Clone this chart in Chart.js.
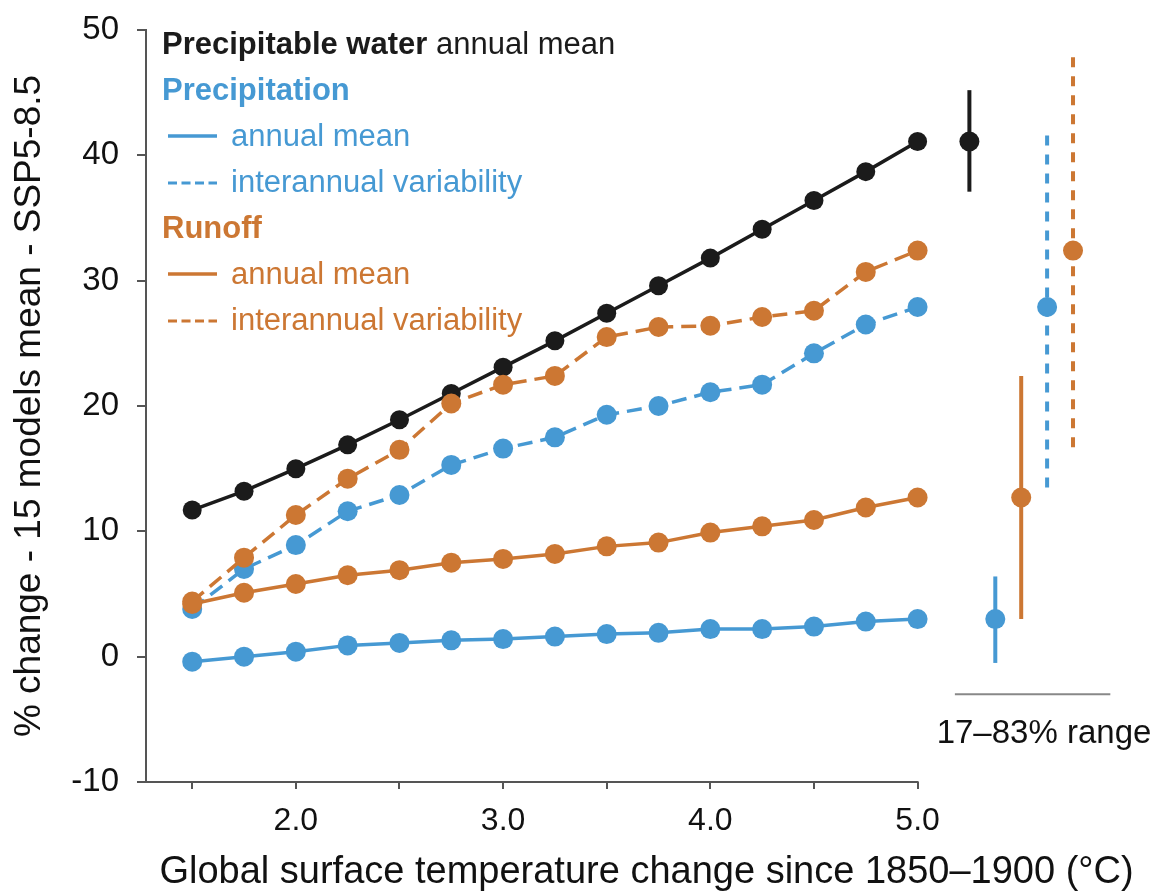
<!DOCTYPE html>
<html>
<head>
<meta charset="utf-8">
<script src="https://cdn.jsdelivr.net/npm/chart.js@4.4.1/dist/chart.umd.min.js"></script>
<style>
  html, body { margin: 0; padding: 0; background: #fff; }
  canvas { display: block; }
</style>
</head>
<body>
<canvas id="chart" width="1157" height="895"></canvas>
<script>
// Warming levels (°C above 1850-1900)
const temps = [1.5, 1.75, 2.0, 2.25, 2.5, 2.75, 3.0, 3.25, 3.5, 3.75, 4.0, 4.25, 4.5, 4.75, 5.0];

// % change, 15 models mean, SSP5-8.5
const pwMean     = [11.7, 13.2, 15.0, 16.9, 18.9, 21.0, 23.1, 25.2, 27.4, 29.6, 31.8, 34.1, 36.4, 38.7, 41.1];
const precipMean = [-0.4, 0.0, 0.4, 0.9, 1.1, 1.3, 1.4, 1.6, 1.8, 1.9, 2.2, 2.2, 2.4, 2.8, 3.0];
const precipVar  = [3.8, 7.0, 8.9, 11.6, 12.9, 15.3, 16.6, 17.5, 19.3, 20.0, 21.1, 21.7, 24.2, 26.5, 27.9];
const runoffMean = [4.2, 5.1, 5.8, 6.5, 6.9, 7.5, 7.8, 8.2, 8.8, 9.1, 9.9, 10.4, 10.9, 11.9, 12.7];
const runoffVar  = [4.4, 7.9, 11.3, 14.2, 16.5, 20.2, 21.7, 22.4, 25.5, 26.3, 26.4, 27.1, 27.6, 30.7, 32.4];

// 17-83% model range at 5.0 °C, drawn to the right of the curves
// order: precipitable water, precip mean, runoff mean, precip variability, runoff variability
const rangeX    = [5.25, 5.375, 5.5, 5.625, 5.75];
const rangeMid  = [41.1, 3.0, 12.7, 27.9, 32.4];
const rangeLow  = [37.1, -0.5, 3.0, 13.5, 16.7];
const rangeHigh = [45.2, 6.4, 22.4, 42.2, 48.2];

const xTicks = [1.5, 2.0, 2.5, 3.0, 3.5, 4.0, 4.5, 5.0];
const yTicks = [-10, 0, 10, 20, 30, 40, 50];

const BLACK = '#1b1b1b';
const BLUE = '#4699d3';
const ORANGE = '#cc7733';
const AXIS = '#555555';
const TEXT = '#111111';
const FONT = '"Liberation Sans", Arial, Helvetica, sans-serif';

Chart.defaults.font.family = FONT;

function points(values) {
  return temps.map((t, i) => ({ x: t, y: values[i] }));
}

function curve(values, color, dash, radius) {
  return {
    data: points(values),
    showLine: true,
    borderColor: color,
    backgroundColor: color,
    borderWidth: 3.5,
    borderDash: dash,
    pointRadius: radius,
    pointBackgroundColor: color,
    pointBorderWidth: 0,
    clip: false,
    order: 0
  };
}

const rangeColors = [BLACK, BLUE, ORANGE, BLUE, ORANGE];
const rangeDashes = [[], [], [], [10, 9], [10, 9]];

const rangeBars = rangeX.map((x, i) => ({
  data: [{ x: x, y: rangeLow[i] }, { x: x, y: rangeHigh[i] }],
  showLine: true,
  borderColor: rangeColors[i],
  borderWidth: 4,
  borderDash: rangeDashes[i],
  borderCapStyle: 'butt',
  pointRadius: 0,
  clip: false,
  order: 2
}));

const rangeDots = {
  data: rangeX.map((x, i) => ({ x: x, y: rangeMid[i] })),
  showLine: false,
  pointRadius: 10,
  pointBackgroundColor: rangeColors,
  pointBorderWidth: 0,
  clip: false,
  order: 1
};

// keep the plot area where the layout padding puts it
function noScalePadding(s) {
  s.paddingTop = 0;
  s.paddingBottom = 0;
  s.paddingLeft = 0;
  s.paddingRight = 0;
}

// axis line that stops at 5.0, the text legend and the range note
const extras = {
  id: 'extras',
  beforeDatasetsDraw(chart) {
    const { ctx, chartArea, scales: { x, y } } = chart;
    ctx.save();
    ctx.strokeStyle = AXIS;
    ctx.lineWidth = 2;
    ctx.beginPath();
    ctx.moveTo(chartArea.left - 1, chartArea.bottom);
    ctx.lineTo(x.getPixelForValue(5.0) + 1, chartArea.bottom);
    ctx.stroke();

    // range underline + label
    const ly = y.getPixelForValue(-3.0);
    ctx.strokeStyle = '#888888';
    ctx.beginPath();
    ctx.moveTo(x.getPixelForValue(5.18), ly);
    ctx.lineTo(x.getPixelForValue(5.93), ly);
    ctx.stroke();
    ctx.fillStyle = TEXT;
    ctx.font = '33px ' + FONT;
    ctx.textAlign = 'center';
    ctx.textBaseline = 'alphabetic';
    ctx.fillText('17–83% range', x.getPixelForValue(5.61), ly + 49);
    ctx.restore();
  },
  afterDraw(chart) {
    const { ctx, chartArea } = chart;
    const left = chartArea.left + 16;
    const lineX0 = chartArea.left + 22;
    const lineX1 = chartArea.left + 71;
    const textX = chartArea.left + 85;
    const step = 46;
    const base = chartArea.top + 24;

    ctx.save();
    ctx.textAlign = 'left';
    ctx.textBaseline = 'alphabetic';

    ctx.fillStyle = BLACK;
    ctx.font = 'bold 31px ' + FONT;
    ctx.fillText('Precipitable water', left, base);
    const w = ctx.measureText('Precipitable water ').width;
    ctx.font = '31px ' + FONT;
    ctx.fillText('annual mean', left + w, base);

    const groups = [
      { name: 'Precipitation', color: BLUE },
      { name: 'Runoff', color: ORANGE }
    ];
    groups.forEach((g, gi) => {
      const b = base + step * (1 + gi * 3);
      ctx.fillStyle = g.color;
      ctx.strokeStyle = g.color;
      ctx.font = 'bold 31px ' + FONT;
      ctx.fillText(g.name, left, b);

      ctx.font = '31px ' + FONT;
      ctx.fillText('annual mean', textX, b + step);
      ctx.fillText('interannual variability', textX, b + step * 2);

      ctx.lineWidth = 3.5;
      ctx.setLineDash([]);
      ctx.beginPath();
      ctx.moveTo(lineX0, b + step - 10);
      ctx.lineTo(lineX1, b + step - 10);
      ctx.stroke();

      ctx.lineWidth = 3;
      ctx.setLineDash([9, 4.5]);
      ctx.beginPath();
      ctx.moveTo(lineX0, b + step * 2 - 9);
      ctx.lineTo(lineX1, b + step * 2 - 9);
      ctx.stroke();
    });
    ctx.restore();
  }
};

new Chart(document.getElementById('chart'), {
  type: 'scatter',
  data: {
    datasets: [
      curve(runoffVar, ORANGE, [15, 8], 10),
      curve(runoffMean, ORANGE, [], 10),
      curve(precipVar, BLUE, [15, 8], 10),
      curve(precipMean, BLUE, [], 10),
      curve(pwMean, BLACK, [], 9.5),
      rangeDots
    ].concat(rangeBars)
  },
  options: {
    responsive: false,
    animation: false,
    events: [],
    layout: { padding: { top: 30, right: 7, bottom: 0, left: 0 } },
    plugins: {
      legend: { display: false },
      tooltip: { enabled: false }
    },
    scales: {
      x: {
        type: 'linear',
        min: 1.277,
        max: 6.107,
        afterBuildTicks: s => { s.ticks = xTicks.map(v => ({ value: v })); },
        afterFit: s => { s.height = 113; noScalePadding(s); },
        border: { display: false },
        grid: { drawOnChartArea: false, drawTicks: true, tickLength: 7, color: AXIS, lineWidth: 2 },
        ticks: {
          autoSkip: false,
          maxRotation: 0,
          padding: 13,
          color: TEXT,
          font: { size: 32 },
          callback: v => Number.isInteger(v) ? v.toFixed(1) : ''
        },
        title: {
          display: true,
          text: 'Global surface temperature change since 1850–1900 (°C)',
          color: TEXT,
          font: { size: 38 },
          padding: { top: 0, bottom: 0 }
        }
      },
      y: {
        type: 'linear',
        min: -10,
        max: 50,
        afterBuildTicks: s => { s.ticks = yTicks.map(v => ({ value: v })); },
        afterFit: s => { s.width = 146; noScalePadding(s); },
        border: { display: true, color: AXIS, width: 2 },
        grid: { drawOnChartArea: false, drawTicks: true, tickLength: 9, color: AXIS, lineWidth: 2 },
        ticks: { padding: 18, color: TEXT, font: { size: 33 } },
        title: {
          display: true,
          text: '% change - 15 models mean - SSP5-8.5',
          color: TEXT,
          font: { size: 37 },
          padding: { top: 8, bottom: 0 }
        }
      }
    }
  },
  plugins: [extras]
});
</script>
</body>
</html>
